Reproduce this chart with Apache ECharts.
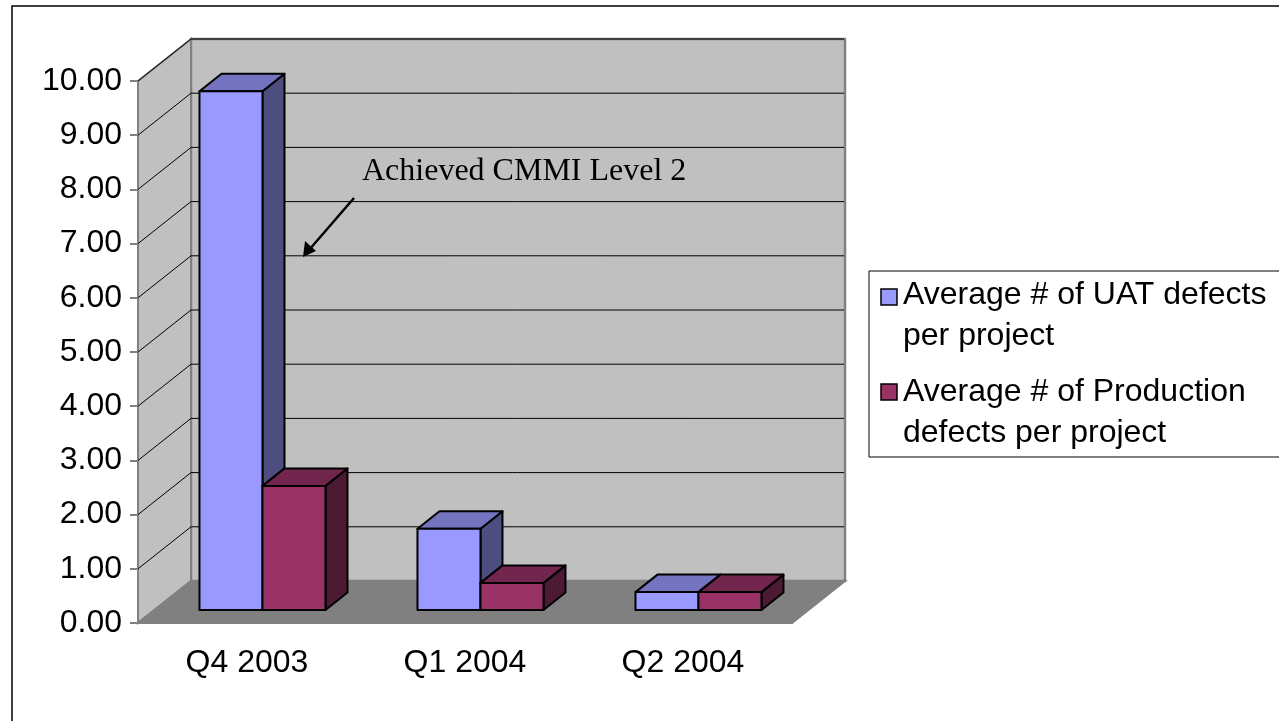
<!DOCTYPE html>
<html>
<head>
<meta charset="utf-8">
<script src="https://cdn.jsdelivr.net/npm/echarts@6/dist/echarts.min.js"></script>
<style>
  html, body { margin: 0; padding: 0; background: #fff; }
  #chart { width: 1279px; height: 721px; }
</style>
</head>
<body>
<div id="chart"></div>
<script>
// data
const categories = ['Q4 2003', 'Q1 2004', 'Q2 2004']
const uatDefects = [9.57, 1.5, 0.33]
const prodDefects = [2.29, 0.5, 0.33]
const seriesNames = ['Average # of UAT defects\nper project', 'Average # of Production\ndefects per project']
const valueTicks = [0, 1, 2, 3, 4, 5, 6, 7, 8, 9, 10]
const noteText = 'Achieved CMMI Level 2'

// 3d look: wall depth and bar depth in px
const WALL_DX = 53, WALL_DY = -42
const BAR_DX = 22, BAR_DY = -17.5, BAR_LIFT = 13
const BAR_W = 0.289

const uatColors = { front: '#9999ff', top: '#7373c0', side: '#4d4d80' }
const prodColors = { front: '#993366', top: '#73264d', side: '#4d1a33' }

const chart = echarts.init(document.getElementById('chart'))

function wallsItem(params, api) {
  const cs = params.coordSys
  const x0 = cs.x, x1 = cs.x + cs.width
  const yTop = cs.y, yBot = cs.y + cs.height
  const edge = { stroke: '#808080', lineWidth: 2 }
  return {
    type: 'group',
    children: [
      { type: 'polygon', shape: { points: [[x0 + WALL_DX, yTop + WALL_DY], [x1 + WALL_DX, yTop + WALL_DY], [x1 + WALL_DX, yBot + WALL_DY], [x0 + WALL_DX, yBot + WALL_DY]] },
        style: Object.assign({ fill: '#c0c0c0' }, edge, { lineWidth: 2.5 }) },
      { type: 'polygon', shape: { points: [[x0, yBot], [x0, yTop], [x0 + WALL_DX, yTop + WALL_DY], [x0 + WALL_DX, yBot + WALL_DY]] },
        style: Object.assign({ fill: '#c0c0c0' }, edge) },
      { type: 'polygon', shape: { points: [[x0, yBot], [x1, yBot], [x1 + WALL_DX, yBot + WALL_DY], [x0 + WALL_DX, yBot + WALL_DY]] },
        style: Object.assign({ fill: '#808080' }, edge) }
    ]
  }
}

function gridItem(params, api) {
  const v = api.value(1)
  if (v === 0) return null
  const cs = params.coordSys
  const p = api.coord([0, v])
  const x0 = cs.x, x1 = cs.x + cs.width
  return {
    type: 'polyline',
    shape: { points: [[x0, p[1]], [x0 + WALL_DX, p[1] + WALL_DY], [x1 + WALL_DX - 1, p[1] + WALL_DY]] },
    style: { stroke: '#000', lineWidth: 1, fill: null }
  }
}

function barItem(offset, colors) {
  return function (params, api) {
    const cat = api.value(0), v = api.value(1)
    const base = api.coord([cat, 0])
    const top = api.coord([cat, v])
    const band = api.size([1, 0])[0]
    const x0 = base[0] + offset * band
    const x1 = x0 + BAR_W * band
    const yb = base[1] - BAR_LIFT, yt = top[1] - BAR_LIFT
    const line = { stroke: '#000', lineWidth: 2, lineJoin: 'round' }
    return {
      type: 'group',
      children: [
        { type: 'polygon', shape: { points: [[x1, yt], [x1 + BAR_DX, yt + BAR_DY], [x1 + BAR_DX, yb + BAR_DY], [x1, yb]] },
          style: Object.assign({ fill: colors.side }, line) },
        { type: 'polygon', shape: { points: [[x0, yt], [x0 + BAR_DX, yt + BAR_DY], [x1 + BAR_DX, yt + BAR_DY], [x1, yt]] },
          style: Object.assign({ fill: colors.top }, line) },
        { type: 'polygon', shape: { points: [[x0, yt], [x1, yt], [x1, yb], [x0, yb]] },
          style: Object.assign({ fill: colors.front }, line) }
      ]
    }
  }
}

const legendFont = '32px "Liberation Sans", Arial, sans-serif'

chart.setOption({
  animation: false,
  grid: { left: 138, right: 487, top: 81, bottom: 98 },
  xAxis: {
    type: 'category',
    data: categories,
    axisLine: { lineStyle: { color: '#808080', width: 2 } },
    axisTick: { length: 9, lineStyle: { color: '#808080', width: 2 } },
    axisLabel: { fontSize: 32, color: '#000', margin: 24, fontFamily: 'Liberation Sans' },
    splitLine: { show: false }
  },
  yAxis: {
    type: 'value',
    min: valueTicks[0],
    max: valueTicks[valueTicks.length - 1],
    interval: 1,
    axisLine: { show: true, lineStyle: { color: '#808080', width: 2 } },
    axisTick: { show: true, length: 8, lineStyle: { color: '#808080', width: 2 } },
    axisLabel: { fontSize: 32, color: '#000', margin: 16, fontFamily: 'Liberation Sans', formatter: v => v.toFixed(2) },
    splitLine: { show: false }
  },
  series: [
    { type: 'custom', name: 'walls', clip: false, silent: true, renderItem: wallsItem, data: [[0, 0]], z: 1 },
    { type: 'custom', name: 'gridlines', clip: false, silent: true, renderItem: gridItem, data: valueTicks.map(v => [0, v]), z: 1 },
    { type: 'custom', name: seriesNames[0], clip: false, renderItem: barItem(-0.218, uatColors), data: uatDefects.map((v, i) => [i, v]), z: 3 },
    { type: 'custom', name: seriesNames[1], clip: false, renderItem: barItem(0.071, prodColors), data: prodDefects.map((v, i) => [i, v]), z: 4 }
  ],
  graphic: [
    // outer chart frame
    { type: 'rect', shape: { x: 12, y: 6, width: 1300, height: 740 }, style: { fill: null, stroke: '#000', lineWidth: 1.5 }, z: 0 },
    // annotation
    { type: 'text', style: { text: noteText, x: 362, y: 172, verticalAlign: 'middle', font: '32px "Liberation Serif", "Times New Roman", serif', fill: '#000' }, z: 10 },
    { type: 'line', shape: { x1: 354, y1: 198, x2: 309, y2: 250 }, style: { stroke: '#000', lineWidth: 2.5 }, z: 10 },
    { type: 'polygon', shape: { points: [[303, 257], [305, 241], [316, 251]] }, style: { fill: '#000' }, z: 10 },
    // legend
    { type: 'rect', shape: { x: 869, y: 271, width: 440, height: 186 }, style: { fill: '#fff', stroke: '#000', lineWidth: 1 }, z: 10 },
    { type: 'rect', shape: { x: 881, y: 289, width: 16, height: 16 }, style: { fill: uatColors.front, stroke: '#000', lineWidth: 1.5 }, z: 11 },
    { type: 'text', style: { text: seriesNames[0], x: 903, y: 274.5, verticalAlign: 'top', lineHeight: 41, font: legendFont, fill: '#000' }, z: 11 },
    { type: 'rect', shape: { x: 881, y: 384, width: 16, height: 16 }, style: { fill: prodColors.front, stroke: '#000', lineWidth: 1.5 }, z: 11 },
    { type: 'text', style: { text: seriesNames[1], x: 903, y: 371.5, verticalAlign: 'top', lineHeight: 41, font: legendFont, fill: '#000' }, z: 11 }
  ]
})
</script>
</body>
</html>
